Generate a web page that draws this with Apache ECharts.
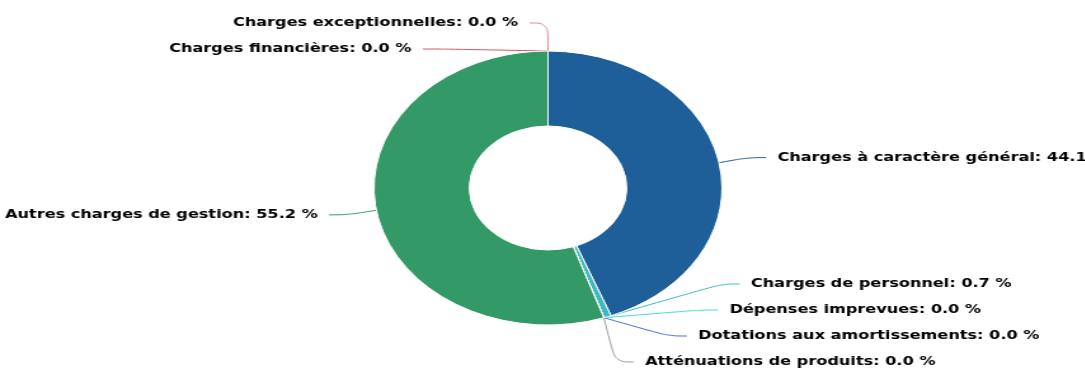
<!DOCTYPE html>
<html>
<head>
<meta charset="utf-8">
<script src="https://cdn.jsdelivr.net/npm/echarts@6/dist/echarts.min.js"></script>
<style>
html,body{margin:0;padding:0;background:#fff;overflow:hidden;width:1085px;height:372px;}
#wrap{width:1085px;height:372px;overflow:hidden;position:relative;}
#chart{width:854px;height:375px;transform:scale(1.27,1);transform-origin:0 0;}
</style>
</head>
<body>
<div id="wrap"><div id="chart"></div></div>
<script>
const categories = [
  "Charges à caractère général",
  "Charges de personnel",
  "Dépenses imprevues",
  "Dotations aux amortissements",
  "Atténuations de produits",
  "Autres charges de gestion",
  "Charges exceptionnelles",
  "Charges financières"
];
const percentValues = [44.1, 0.7, 0.0, 0.0, 0.0, 55.2, 0.0, 0.0];
const sliceColors = ["#1f5f99", "#3fb8c4", "#40e0d0", "#4a6ee0", "#a0a0a0", "#339966", "#f08090", "#e05060"];

const chart = echarts.init(document.getElementById('chart'), null, {renderer: 'canvas'});
chart.setOption({
  animation: false,
  backgroundColor: '#ffffff',
  series: [{
    type: 'pie',
    center: [431.5, 188],
    radius: [62, 137],
    startAngle: 90,
    clockwise: true,
    percentPrecision: 1,
    avoidLabelOverlap: true,
    itemStyle: {borderColor: '#ffffff', borderWidth: 1},
    label: {
      show: true,
      position: 'outside',
      overflow: 'none',
      fontFamily: 'DejaVu Sans',
      fontWeight: 'bold',
      fontSize: 12.7,
      lineHeight: 14,
      padding: [5, 4],
      color: '#000000',
      textBorderColor: '#ffffff',
      textBorderWidth: 1,
      formatter: function (p) { return p.name + ': ' + Number(p.value).toFixed(1) + ' %'; }
    },
    labelLine: {show: true, length: 28, length2: 14.5, smooth: 0.4, lineStyle: {width: 1}},
    emphasis: {disabled: true},
    data: categories.map(function (c, i) {
      return {name: c, value: percentValues[i], itemStyle: {color: sliceColors[i]}};
    })
  }]
});
</script>
</body>
</html>
